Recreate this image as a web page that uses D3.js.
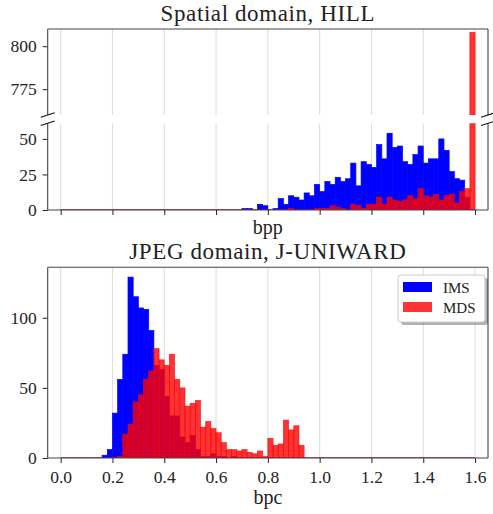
<!DOCTYPE html>
<html>
<head>
<meta charset="utf-8">
<script src="https://cdn.jsdelivr.net/npm/d3@7"></script>
<style>
  body { margin: 0; background: #fff; }
  svg { display: block; }
  text { font-family: "Liberation Serif", "Times New Roman", serif; fill: #222; }
</style>
</head>
<body>
<svg id="chart"></svg>
<script>
const width = 493;
const height = 514;

// histogram bins: 80 bins of 0.02 starting at 0
const binStart = 0;
const binWidth = 0.02;
const xTicks = [0, 0.2, 0.4, 0.6, 0.8, 1.0, 1.2, 1.4, 1.6];

// Spatial domain, HILL (counts per bin)
const spatialIMS = [
  0, 0, 0, 0, 0, 0, 0, 0, 0, 0,
  0, 0, 0, 0, 0, 0, 0, 0, 0, 0,
  0, 0, 0, 0, 0, 0, 0, 0, 0, 0,
  0, 0, 0, 0, 0, 1, 1, 0, 4, 3,
  0, 1, 8, 4, 10, 9, 7, 12, 10, 18,
  13, 20, 18, 23, 20, 22, 33, 17, 34, 32,
  30, 46, 36, 54, 44, 45, 34, 32, 39, 45,
  33, 36, 36, 50, 42, 27, 22, 21, 9, 0
];
const spatialMDS = [
  0, 0, 0, 0, 0, 0, 0, 0, 0, 0,
  0, 0, 0, 0, 0, 0, 0, 0, 0, 0,
  0, 0, 0, 0, 0, 0, 0, 0, 0, 0,
  0, 0, 0, 0, 0, 0, 0, 0, 0, 0,
  0, 0, 0, 0, 1, 0, 0, 0, 0, 1,
  1, 1, 3, 2, 1, 0, 4, 3, 1, 4,
  4, 9, 4, 9, 7, 6, 7, 10, 8, 15,
  10, 9, 11, 7, 10, 11, 5, 13, 15, 808
];

// JPEG domain, J-UNIWARD
const jpegIMS = [
  0, 0, 0, 0, 0, 0, 0, 0, 2, 6,
  32, 56, 74, 129, 115, 107, 106, 91, 66, 63,
  44, 30, 30, 15, 11, 16, 6, 1, 1, 3,
  1, 1, 0, 1, 0, 0, 0, 0, 0, 0,
  0, 0, 0, 0, 0, 0, 0, 0, 0, 0,
  0, 0, 0, 0, 0, 0, 0, 0, 0, 0,
  0, 0, 0, 0, 0, 0, 0, 0, 0, 0,
  0, 0, 0, 0, 0, 0, 0, 0, 0, 0
];
const jpegMDS = [
  0, 0, 0, 0, 0, 0, 0, 0, 0, 0,
  0, 1, 17, 24, 40, 45, 56, 62, 78, 70,
  66, 74, 56, 50, 37, 39, 41, 22, 26, 21,
  18, 11, 6, 6, 5, 6, 4, 3, 5, 1,
  14, 9, 10, 27, 20, 23, 9, 0, 0, 0,
  0, 0, 0, 0, 0, 0, 0, 0, 0, 0,
  0, 0, 0, 0, 0, 0, 0, 0, 0, 0,
  0, 0, 0, 0, 0, 0, 0, 0, 0, 0
];

const upperTicks = [775, 800];
const lowerTicks = [0, 25, 50];
const jpegTicks = [0, 50, 100];
const legendLabels = ["IMS", "MDS"];

const blue = "#0000ff";
const red = "#ff0000";
const redAlpha = 0.8;
const gridColor = "#dcdcdc";
const spineColor = "#444";

const svg = d3.select("#chart").attr("width", width).attr("height", height);

const left = 47.7, right = 488;
const x = d3.scaleLinear().domain([-0.05, 1.65]).range([left, right]);

const panels = {
  upper: { top: 29, bottom: 115, domain: [760, 810] },
  lower: { top: 123.3, bottom: 210, domain: [0, 61] },
  jpeg: { top: 267.3, bottom: 458, domain: [0, 136] },
};
Object.entries(panels).forEach(([k, p]) => {
  p.y = d3.scaleLinear().domain(p.domain).range([p.bottom, p.top]);
  svg.append("clipPath").attr("id", "clip-" + k)
    .append("rect").attr("x", left).attr("y", p.top)
    .attr("width", right - left).attr("height", p.bottom - p.top);
});

function drawGrid(p) {
  svg.append("g").selectAll("line").data(xTicks).join("line")
    .attr("x1", d => x(d)).attr("x2", d => x(d))
    .attr("y1", p.top).attr("y2", p.bottom)
    .attr("stroke", gridColor).attr("stroke-width", 1);
}

function drawBars(p, key, counts, color, opacity, zeroLine) {
  const g = svg.append("g").attr("clip-path", `url(#clip-${key})`);
  const bins = counts.map((c, i) => ({ x0: binStart + i * binWidth, x1: binStart + (i + 1) * binWidth, c }));
  if (zeroLine) {
    g.append("line")
      .attr("x1", x(bins[0].x0)).attr("x2", x(bins[bins.length - 1].x1))
      .attr("y1", p.y(0)).attr("y2", p.y(0))
      .attr("stroke", color).attr("stroke-opacity", opacity).attr("stroke-width", 1.2);
  }
  g.selectAll("rect").data(bins.filter(b => b.c > 0)).join("rect")
    .attr("x", d => x(d.x0))
    .attr("width", d => x(d.x1) - x(d.x0))
    .attr("y", d => p.y(d.c))
    .attr("height", d => p.y(0) - p.y(d.c))
    .attr("fill", color).attr("fill-opacity", opacity)
    .attr("stroke", color).attr("stroke-opacity", opacity).attr("stroke-width", 0.7);
}

function drawYAxis(p, ticks) {
  const g = svg.append("g").attr("transform", `translate(${left},0)`)
    .call(d3.axisLeft(p.y).tickValues(ticks).tickSize(5).tickPadding(6));
  g.select(".domain").remove();
  g.selectAll(".tick line").attr("stroke", "#222");
  g.selectAll(".tick text").attr("font-size", "17.5px").attr("font-family", null).attr("fill", "#222");
}

function spine(x1, y1, x2, y2) {
  svg.append("line").attr("x1", x1).attr("y1", y1).attr("x2", x2).attr("y2", y2)
    .attr("stroke", spineColor).attr("stroke-width", 1.1);
}

// ---- top figure: spatial domain (broken y axis)
drawGrid(panels.upper);
drawGrid(panels.lower);
drawBars(panels.upper, "upper", spatialIMS, blue, 1, false);
drawBars(panels.upper, "upper", spatialMDS, red, redAlpha, false);
drawBars(panels.lower, "lower", spatialIMS, blue, 1, true);
drawBars(panels.lower, "lower", spatialMDS, red, redAlpha, true);

drawYAxis(panels.upper, upperTicks);
drawYAxis(panels.lower, lowerTicks);

spine(left, panels.upper.top, left, panels.upper.bottom);
spine(right, panels.upper.top, right, panels.upper.bottom);
spine(left, panels.upper.top, right, panels.upper.top);
spine(left, panels.lower.top, left, panels.lower.bottom);
spine(right, panels.lower.top, right, panels.lower.bottom);
spine(left, panels.lower.bottom, right, panels.lower.bottom);

// break marks
[left, right].forEach(cx => {
  [panels.upper.bottom, panels.lower.top].forEach(cy => {
    svg.append("line")
      .attr("x1", cx - 7).attr("y1", cy + 2.2)
      .attr("x2", cx + 7).attr("y2", cy - 2.2)
      .attr("stroke", "#111").attr("stroke-width", 1.1);
  });
});

// shared x ticks without labels under the top figure
const topXAxis = svg.append("g").attr("transform", `translate(0,${panels.lower.bottom})`)
  .call(d3.axisBottom(x).tickValues(xTicks).tickSize(5));
topXAxis.select(".domain").remove();
topXAxis.selectAll(".tick text").remove();
topXAxis.selectAll(".tick line").attr("stroke", "#222");

svg.append("text").attr("x", (left + right) / 2).attr("y", 20.5)
  .attr("text-anchor", "middle").attr("font-size", "23px").attr("letter-spacing", "0.6px")
  .text("Spatial domain, HILL");
svg.append("text").attr("x", (left + right) / 2).attr("y", 234)
  .attr("text-anchor", "middle").attr("font-size", "20px").text("bpp");

// ---- bottom figure: JPEG domain
const pj = panels.jpeg;
drawGrid(pj);
drawBars(pj, "jpeg", jpegIMS, blue, 1, true);
drawBars(pj, "jpeg", jpegMDS, red, redAlpha, true);
drawYAxis(pj, jpegTicks);

const jx = svg.append("g").attr("transform", `translate(0,${pj.bottom})`)
  .call(d3.axisBottom(x).tickValues(xTicks).tickSize(5).tickPadding(8).tickFormat(d3.format(".1f")));
jx.select(".domain").remove();
jx.selectAll(".tick line").attr("stroke", "#222");
jx.selectAll(".tick text").attr("font-size", "17.5px").attr("font-family", null).attr("fill", "#222");

spine(left, pj.top, left, pj.bottom);
spine(right, pj.top, right, pj.bottom);
spine(left, pj.top, right, pj.top);
spine(left, pj.bottom, right, pj.bottom);

svg.append("text").attr("x", (left + right) / 2).attr("y", 259)
  .attr("text-anchor", "middle").attr("font-size", "23px").attr("letter-spacing", "0.6px")
  .text("JPEG domain, J-UNIWARD");
svg.append("text").attr("x", (left + right) / 2).attr("y", 504)
  .attr("text-anchor", "middle").attr("font-size", "20px").text("bpc");

// legend
const lg = svg.append("g").attr("transform", "translate(398,275)");
lg.append("rect").attr("x", 3).attr("y", 3).attr("width", 87).attr("height", 47).attr("rx", 3)
  .attr("fill", "#000").attr("fill-opacity", 0.3);
lg.append("rect").attr("width", 87).attr("height", 47).attr("rx", 3)
  .attr("fill", "#fff").attr("stroke", "#cccccc").attr("stroke-width", 1);
const legendColors = [blue, red];
const legendOpacity = [1, redAlpha];
legendLabels.forEach((lab, i) => {
  lg.append("rect").attr("x", 5).attr("y", 7 + i * 20).attr("width", 29).attr("height", 10)
    .attr("fill", legendColors[i]).attr("fill-opacity", legendOpacity[i]);
  lg.append("text").attr("x", 45).attr("y", 17.5 + i * 20).attr("font-size", "15px").text(lab);
});
</script>
</body>
</html>
